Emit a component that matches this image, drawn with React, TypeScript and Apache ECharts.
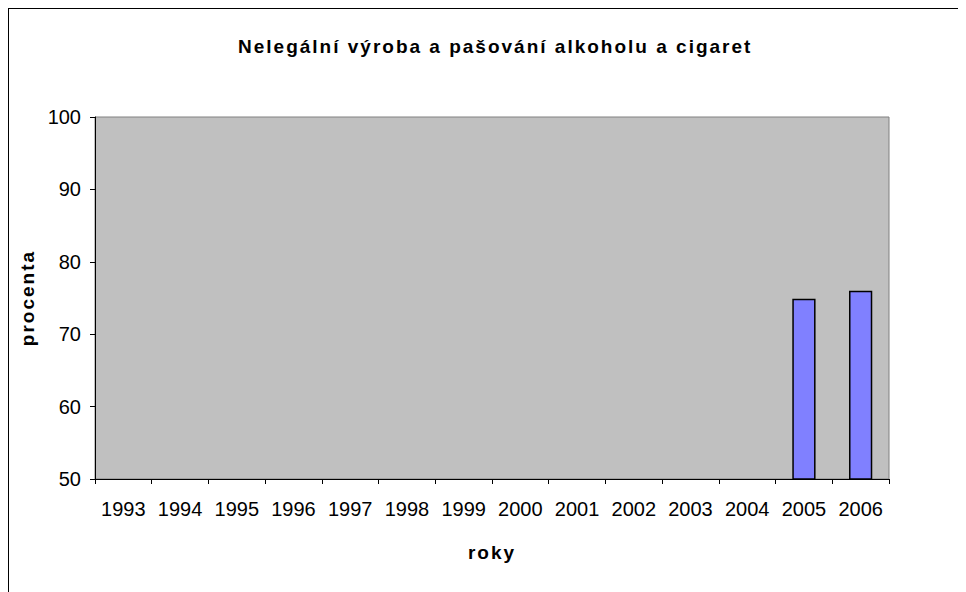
import React, { useEffect, useRef } from "react";
import * as echarts from "echarts";

const categories = ["1993", "1994", "1995", "1996", "1997", "1998", "1999", "2000", "2001", "2002", "2003", "2004", "2005", "2006"];
const values: (number | null)[] = [null, null, null, null, null, null, null, null, null, null, null, null, 74.9, 76];
const titleText = "Nelegální výroba a pašování alkoholu a cigaret";
const yName = "procenta";
const xName = "roky";

export default function App() {
  const ref = useRef<HTMLDivElement>(null);
  useEffect(() => {
    const chart = echarts.init(ref.current!, undefined, { renderer: "svg" });
    const font = "'Liberation Sans', Arial, sans-serif";
    chart.setOption({
      animation: false,
      backgroundColor: "#ffffff",
      title: {
        text: titleText,
        left: 224,
        top: 23,
        textStyle: { fontFamily: font, fontSize: 19, fontWeight: "bold", color: "#000" },
      },
      grid: {
        left: 86,
        top: 108,
        right: 80,
        bottom: 120,
        show: true,
        backgroundColor: "#C0C0C0",
        borderColor: "#808080",
        borderWidth: 1,
      },
      xAxis: {
        type: "category",
        data: categories,
        boundaryGap: true,
        name: xName,
        nameLocation: "middle",
        nameGap: 64,
        nameTextStyle: { fontFamily: font, fontSize: 19, fontWeight: "bold", color: "#000" },
        axisLine: { lineStyle: { color: "#000", width: 1 } },
        axisTick: { show: true, length: 5, lineStyle: { color: "#000" } },
        axisLabel: { fontFamily: font, fontSize: 20, color: "#000", margin: 20, interval: 0 },
        splitLine: { show: false },
      },
      yAxis: {
        type: "value",
        min: 50,
        max: 100,
        interval: 10,
        name: yName,
        nameLocation: "middle",
        nameGap: 58,
        nameTextStyle: { fontFamily: font, fontSize: 19, fontWeight: "bold", color: "#000" },
        axisLine: { show: true, lineStyle: { color: "#000", width: 1 } },
        axisTick: { show: true, length: 5, lineStyle: { color: "#000" } },
        axisLabel: { fontFamily: font, fontSize: 20, color: "#000", margin: 14 },
        splitLine: { show: false },
      },
      series: [
        {
          type: "bar",
          data: values,
          barWidth: "41%",
          itemStyle: { color: "#8080FF", borderColor: "#000", borderWidth: 1.5 },
        },
      ],
    });
    return () => chart.dispose();
  }, []);
  return (
    <div style={{ border: "1px solid #000", width: 960, height: 590 }}>
      <style>{`#chart-box svg text[style*="bold"] { letter-spacing: 2px; }`}</style>
      <div id="chart-box" ref={ref} style={{ width: 960, height: 590 }} />
    </div>
  );
}
